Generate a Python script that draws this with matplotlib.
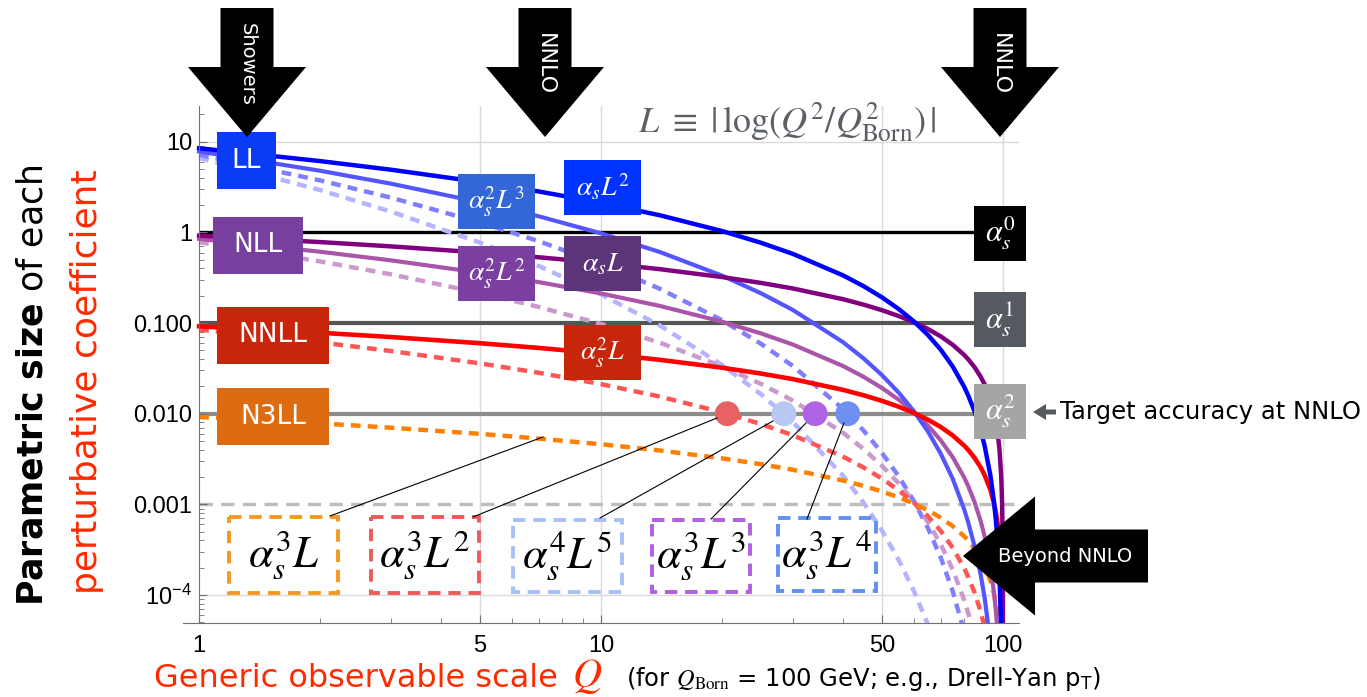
"""Parametric size of each perturbative coefficient vs. the observable scale Q."""

import matplotlib

matplotlib.use("Agg")
import matplotlib.pyplot as plt
from matplotlib.lines import Line2D
from matplotlib.patches import Polygon, Rectangle
from matplotlib.ticker import FixedFormatter, FixedLocator, NullFormatter
from matplotlib.transforms import Affine2D

plt.rcParams["mathtext.fontset"] = "stix"

W, H = 1367, 697

q_grid = [1, 2, 3, 5, 7, 10, 14, 20, 25, 30, 40, 45, 50, 55, 60, 65, 70, 75, 80, 82,
          85, 88, 90, 93, 95, 96, 97, 98, 99, 99.5, 99.8, 99.9, 99.95, 99.99]

# term sizes along q_grid (each list stops once it leaves the bottom of the plot)
as1_L2 = [8.483, 6.121, 4.918, 3.590, 2.829, 2.121, 1.546, 1.036, 0.7687, 0.5798,
          0.3358, 0.2550, 0.1922, 0.1430, 0.1044, 0.07424, 0.05088, 0.03311, 0.01992,
          0.01575, 0.01056, 0.006538, 0.00444, 0.002105, 0.001053, 6.67e-4, 3.71e-4,
          1.63e-4, 4.04e-5]
as2_L3 = [7.813, 4.789, 3.449, 2.151, 1.505, 0.9767, 0.6080, 0.3335, 0.2131, 0.1396,
          0.06154, 0.04073, 0.02664, 0.01710, 0.01067, 0.006396, 0.003629, 0.001905,
          8.89e-4, 6.25e-4, 3.43e-4, 1.672e-4, 9.36e-5, 3.05e-5]
as3_L4 = [7.196, 3.747, 2.419, 1.289, 0.8005, 0.4498, 0.2391, 0.1074, 0.05908,
          0.03361, 0.01128, 0.006505, 0.003693, 0.002044, 0.00109, 5.51e-4, 2.59e-4,
          1.096e-4, 3.97e-5]
as4_L5 = [6.628, 2.932, 1.697, 0.7722, 0.4258, 0.2071, 0.09402, 0.03456, 0.01638,
          0.008093, 0.002067, 0.001039, 5.12e-4, 2.444e-4, 1.113e-4, 4.75e-5]
as1_L1 = [0.9210, 0.7824, 0.7013, 0.5992, 0.5319, 0.4605, 0.3932, 0.3219, 0.2773,
          0.2408, 0.1833, 0.1597, 0.1386, 0.1196, 0.1022, 0.08616, 0.07133, 0.05754,
          0.04463, 0.03969, 0.0325, 0.02557, 0.02107, 0.01451, 0.01026, 0.008164,
          0.00609, 0.00404, 0.00201, 0.001003, 4.0e-4, 2.0e-4, 1.0e-4, 2.0e-5]
as2_L2 = [0.8483, 0.6121, 0.4918, 0.3590, 0.2829, 0.2121, 0.1546, 0.1036, 0.07687,
          0.05798, 0.03358, 0.02550, 0.01922, 0.01430, 0.01044, 0.007424, 0.005088,
          0.003311, 0.001992, 0.001575, 0.001056, 6.54e-4, 4.44e-4, 2.105e-4,
          1.053e-4, 6.67e-5, 3.71e-5]
as3_L3 = [0.7813, 0.4789, 0.3449, 0.2151, 0.1505, 0.09767, 0.0608, 0.03335, 0.02131,
          0.01396, 0.006154, 0.004073, 0.002664, 0.001710, 0.001067, 6.40e-4, 3.63e-4,
          1.905e-4, 8.89e-5, 6.25e-5, 3.43e-5]
as2_L1 = [0.0921, 0.07824, 0.07013, 0.05992, 0.05319, 0.04605, 0.03932, 0.03219,
          0.02773, 0.02408, 0.01833, 0.01597, 0.01386, 0.01196, 0.01022, 0.008616,
          0.007133, 0.005754, 0.004463, 0.003969, 0.00325, 0.002557, 0.002107,
          0.001451, 0.001026, 8.16e-4, 6.09e-4, 4.04e-4, 2.01e-4, 1.003e-4, 4.0e-5]
as3_L2 = [0.08483, 0.06121, 0.04918, 0.0359, 0.02829, 0.02121, 0.01546, 0.01036,
          0.007687, 0.005798, 0.003358, 0.002550, 0.001922, 0.001430, 0.001044,
          7.42e-4, 5.09e-4, 3.31e-4, 1.99e-4, 1.575e-4, 1.06e-4, 6.54e-5, 4.44e-5]
as3_L1 = [0.00921, 0.007824, 0.007013, 0.005992, 0.005319, 0.004605, 0.003932,
          0.003219, 0.002773, 0.002408, 0.001833, 0.001597, 0.001386, 0.001196,
          0.001022, 8.62e-4, 7.13e-4, 5.75e-4, 4.46e-4, 3.97e-4, 3.25e-4, 2.56e-4,
          2.11e-4, 1.45e-4, 1.03e-4, 8.16e-5, 6.1e-5, 4.0e-5]

# pure powers of alpha_s (alpha_s = 0.1) and the 0.001 guide
alpha_levels = [1.0, 0.1, 0.01]
guide_level = 0.001

# where the beyond-NNLO terms cross the 0.01 target
cross_q = [20.6, 28.5, 34.1, 41.1]
cross_level = 0.01

x_ticks = [1, 5, 10, 50, 100]
x_tick_labels = ["1", "5", "10", "50", "100"]
y_ticks = [1e-4, 1e-3, 1e-2, 1e-1, 1, 10]
y_tick_labels = [r"$\mathregular{10^{-4}}$", "0.001", "0.010", "0.100", "1", "10"]

fig = plt.figure(figsize=(W / 100, H / 100), dpi=100)
ax = fig.add_axes([183 / W, 1 - 622.7 / H, (1019 - 183) / W, (622.7 - 106) / H])
ax.set_xscale("log")
ax.set_yscale("log")
ax.set_xlim(0.912, 109.6)
ax.set_ylim(4.95e-5, 24.8)

# pixel coordinates of the slide, origin top-left
px = Affine2D().scale(1 / W, -1 / H).translate(0, 1) + fig.transFigure

# light grid
for q in x_ticks[1:]:
    ax.axvline(q, color="#dadada", lw=1, zorder=0)
ax.hlines([10, 1e-4], 1, 109.6, color="#dadada", lw=1, zorder=0)

# reference levels
ax.hlines(alpha_levels, 1, 109.6, colors=["#000000", "#555555", "#8c8c8c"],
          lw=[2.4, 3.0, 3.0], zorder=1)
ax.hlines(guide_level, 1, 109.6, colors="#bdbdbd", lw=2.4, linestyles=(0, (4, 2.5)), zorder=1)

dash = (0, (2.2, 1.6))
curves = [
    (as4_L5, "#b4b4ff", dash, 3.2),
    (as3_L4, "#8080ff", dash, 3.2),
    (as3_L3, "#cc99cc", dash, 3.2),
    (as3_L2, "#ff5555", dash, 3.2),
    (as3_L1, "#ff8000", dash, 3.2),
    (as2_L2, "#aa55aa", "-", 3.0),
    (as2_L3, "#5555ff", "-", 3.0),
    (as2_L1, "#ff0000", "-", 3.3),
    (as1_L1, "#800080", "-", 3.2),
    (as1_L2, "#0000ff", "-", 3.2),
]
for vals, color, style, lw in curves:
    ax.plot(q_grid[:len(vals)], vals, color=color, ls=style, lw=lw, zorder=2)

ax.scatter(cross_q, [cross_level] * len(cross_q), s=320, zorder=4, linewidths=0,
           c=["#e86262", "#b8c8f2", "#b062e6", "#6f90f0"])

# axes styling
for side in ("top", "right"):
    ax.spines[side].set_visible(False)
ax.spines["left"].set_position(("data", 1))
for side in ("left", "bottom"):
    ax.spines[side].set_color("#707070")
ax.xaxis.set_major_locator(FixedLocator(x_ticks))
ax.xaxis.set_major_formatter(FixedFormatter(x_tick_labels))
ax.xaxis.set_minor_locator(FixedLocator([2, 3, 4, 6, 7, 8, 9, 20, 30, 40, 60, 70, 80, 90]))
ax.xaxis.set_minor_formatter(NullFormatter())
ax.yaxis.set_major_locator(FixedLocator(y_ticks))
ax.yaxis.set_major_formatter(FixedFormatter(y_tick_labels))
ax.yaxis.set_minor_locator(FixedLocator([k * 10.0 ** e for e in range(-5, 2) for k in range(2, 10)]))
ax.yaxis.set_minor_formatter(NullFormatter())
ax.tick_params(which="both", direction="in", color="#707070", labelcolor="black",
               labelsize=17, labelfontfamily="Liberation Sans")
ax.tick_params(which="major", length=6)
ax.tick_params(which="minor", length=3.5)
ax.tick_params(axis="x", pad=9)
ax.tick_params(axis="y", pad=5)


def box(x0, y0, x1, y1, color, label, size, dashed=False):
    if dashed:
        fig.add_artist(Rectangle((x0, y0), x1 - x0, y1 - y0, transform=px, fill=False,
                                 edgecolor=color, lw=2.8, ls=(0, (3.2, 2.0))))
        text_color = "black"
    else:
        fig.add_artist(Rectangle((x0, y0), x1 - x0, y1 - y0, transform=px,
                                 facecolor=color, edgecolor="none"))
        text_color = "white"
    fig.text((x0 + x1) / 2, (y0 + y1) / 2, label, transform=px, ha="center",
             va="center", color=text_color, fontsize=size)


def down_arrow(cx, label, size):
    pts = [(cx - 26.5, 8), (cx + 26.5, 8), (cx + 26.5, 67), (cx + 59, 67), (cx, 137),
           (cx - 59, 67), (cx - 26.5, 67)]
    fig.add_artist(Polygon(pts, closed=True, transform=px, facecolor="black", edgecolor="none"))
    fig.text(cx, 64, label, transform=px, rotation=-90, ha="center", va="center",
             color="white", fontsize=size)


# resummation order boxes
box(217, 132, 276, 189, "#0a3cf5", "LL", 19)
box(213, 217, 303, 274, "#773f9e", "NLL", 19)
box(217, 307, 329, 364, "#c9250b", "NNLL", 19)
box(217, 388, 329, 445, "#dc6b12", "N3LL", 19)

# curve labels
box(458, 174, 535, 229, "#3366d6", r"$\alpha_s^2L^3$", 20)
box(564, 160, 641, 215, "#0033ff", r"$\alpha_sL^2$", 20)
box(458, 246, 535, 301, "#7a3fa0", r"$\alpha_s^2L^2$", 20)
box(564, 236, 641, 291, "#5c3479", r"$\alpha_sL$", 20)
box(564, 325, 641, 380, "#c8260a", r"$\alpha_s^2L$", 20)

# fixed-order levels
box(974, 206, 1026, 261, "#000000", r"$\alpha_s^0$", 22)
box(974, 292, 1026, 347, "#555a60", r"$\alpha_s^1$", 22)
box(974, 384, 1026, 439, "#a3a5a6", r"$\alpha_s^2$", 22)

# beyond-NNLO terms
box(229, 517, 338, 593, "#f39a1e", r"$\alpha_s^3L$", 32, dashed=True)
box(371, 517, 479, 593, "#ee5a5a", r"$\alpha_s^3L^2$", 32, dashed=True)
box(513, 520, 622, 592, "#a8c0f5", r"$\alpha_s^4L^5$", 32, dashed=True)
box(652, 520, 750, 592, "#b05fe0", r"$\alpha_s^3L^3$", 32, dashed=True)
box(778, 518, 876, 591, "#6090f0", r"$\alpha_s^3L^4$", 32, dashed=True)

leaders = [((330, 516), (543, 437)), ((473, 517), (717, 418)), ((600, 518), (773, 421)),
           ((711, 519), (806, 423)), ((807, 519), (844, 423))]
for (xa, ya), (xb, yb) in leaders:
    fig.add_artist(Line2D([xa, xb], [ya, yb], transform=px, color="black", lw=0.8))

down_arrow(247, "Showers", 14)
down_arrow(545, "NNLO", 16)
down_arrow(1000, "NNLO", 16)

fig.add_artist(Polygon([(963, 556), (1035, 496.5), (1035, 529.5), (1148, 529.5),
                        (1148, 582.5), (1035, 582.5), (1035, 615.5)],
                       closed=True, transform=px, facecolor="black", edgecolor="none"))
fig.text(1065, 556, "Beyond NNLO", transform=px, ha="center", va="center",
         color="white", fontsize=14)

fig.add_artist(Polygon([(1033, 412), (1046, 404), (1046, 409.5), (1056, 409.5),
                        (1056, 414.5), (1046, 414.5), (1046, 420)],
                       closed=True, transform=px, facecolor="#555a60", edgecolor="none"))
fig.text(1060, 412, "Target accuracy at NNLO", transform=px, ha="left", va="center",
         fontsize=17.5)

fig.text(787, 132, r"$L\ \equiv\ |\,\log(Q^2/Q^2_{\rm Born})\,|$", transform=px,
         ha="center", va="baseline", fontsize=26, color="#5b6066")

# axis titles
fig.text(43, 385, r"$\mathbf{Parametric\ size}$ of each", transform=px, rotation=90,
         rotation_mode="anchor", ha="center", va="baseline", fontsize=25,
         math_fontfamily="dejavusans")
fig.text(97, 382, "perturbative coefficient", transform=px, rotation=90,
         rotation_mode="anchor", ha="center", va="baseline", fontsize=26, color="#ff2a00")
fig.text(154, 687, "Generic observable scale", transform=px, ha="left",
         va="baseline", fontsize=23, color="#ff2a00")
fig.text(572, 687, "$Q$", transform=px, ha="left", va="baseline", fontsize=29,
         color="#ff2a00")
fig.text(626, 686, r"(for $Q_{\rm Born}$ = 100 GeV; e.g., Drell-Yan p$_{\mathregular{T}}$)",
         transform=px, ha="left", va="baseline", fontsize=17.5)

fig.savefig("out.png", dpi=100)
